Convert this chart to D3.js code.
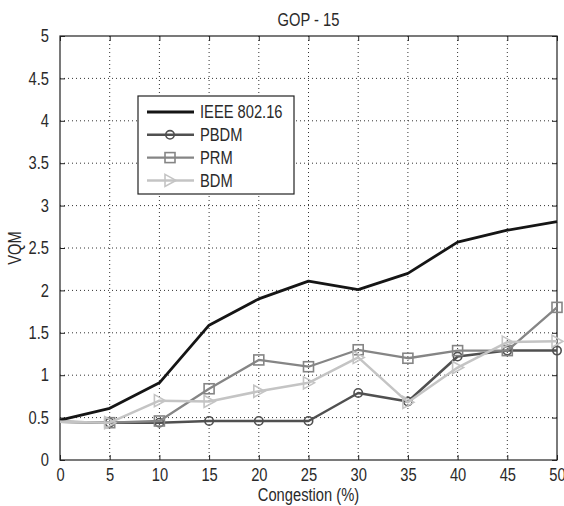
<!DOCTYPE html>
<html lang="en">
<head>
<meta charset="utf-8">
<title>GOP - 15</title>
<script src="https://d3js.org/d3.v7.min.js"></script>
<style>
  html, body { margin: 0; padding: 0; background: #fff; }
  text { font-family: "Liberation Sans", Arial, sans-serif; font-size: 17.5px; fill: #2a2a2a; }
</style>
</head>
<body>
<div id="chart"></div>
<script>
// values
var congestion = [0, 5, 10, 15, 20, 25, 30, 35, 40, 45, 50];
var ieee = [0.47, 0.61, 0.91, 1.59, 1.90, 2.11, 2.01, 2.20, 2.57, 2.71, 2.81];
var pbdm = [0.45, 0.44, 0.44, 0.46, 0.46, 0.46, 0.79, 0.69, 1.22, 1.29, 1.29];
var prm  = [0.45, 0.44, 0.46, 0.84, 1.18, 1.10, 1.30, 1.20, 1.29, 1.29, 1.80];
var bdm  = [0.45, 0.44, 0.70, 0.69, 0.81, 0.91, 1.21, 0.68, 1.09, 1.39, 1.40];
var seriesNames = ["IEEE 802.16", "PBDM", "PRM", "BDM"];
var xTicks = [0, 5, 10, 15, 20, 25, 30, 35, 40, 45, 50];
var yTicks = [0, 0.5, 1, 1.5, 2, 2.5, 3, 3.5, 4, 4.5, 5];

var W = 564, H = 506;
var margin = {top: 36, right: 7, bottom: 46, left: 60};
var width = W - margin.left - margin.right,
    height = H - margin.top - margin.bottom;

var svg = d3.select("#chart").append("svg")
    .attr("width", W).attr("height", H);

var g = svg.append("g")
    .attr("transform", "translate(" + margin.left + "," + margin.top + ")");

var x = d3.scaleLinear().domain([0, 50]).range([0, width]);
var y = d3.scaleLinear().domain([0, 5]).range([height, 0]);

// dotted grid
g.append("g").selectAll("line")
  .data(xTicks.slice(1, -1))
  .enter().append("line")
    .attr("x1", function(d) { return x(d); })
    .attr("x2", function(d) { return x(d); })
    .attr("y1", 0).attr("y2", height)
    .attr("stroke", "#333").attr("stroke-width", 1)
    .attr("stroke-dasharray", "1,3");

g.append("g").selectAll("line")
  .data(yTicks.slice(1, -1))
  .enter().append("line")
    .attr("y1", function(d) { return y(d); })
    .attr("y2", function(d) { return y(d); })
    .attr("x1", 0).attr("x2", width)
    .attr("stroke", "#333").attr("stroke-width", 1)
    .attr("stroke-dasharray", "1,3");

// axes, ticks inward on all four sides
function styleAxis(sel) {
  sel.select(".domain").remove();
  sel.selectAll(".tick line").attr("stroke", "#222");
  sel.attr("font-family", null).attr("font-size", null);
}

g.append("g")
  .attr("transform", "translate(0," + height + ")")
  .call(d3.axisBottom(x).tickValues(xTicks).tickSize(-5).tickPadding(9).tickFormat(d3.format("d")))
  .call(styleAxis);

g.append("g")
  .call(d3.axisTop(x).tickValues(xTicks).tickSize(-5).tickFormat(""))
  .call(styleAxis);

g.append("g")
  .call(d3.axisLeft(y).tickValues(yTicks).tickSize(-5).tickPadding(11).tickFormat(d3.format("")))
  .call(styleAxis);

g.append("g")
  .attr("transform", "translate(" + width + ",0)")
  .call(d3.axisRight(y).tickValues(yTicks).tickSize(-5).tickFormat(""))
  .call(styleAxis);

g.append("rect")
  .attr("width", width).attr("height", height)
  .attr("fill", "none").attr("stroke", "#222").attr("stroke-width", 1.2);

// series
var series = [
  {name: seriesNames[0], values: ieee, color: "#151515", w: 2.8, marker: null},
  {name: seriesNames[1], values: pbdm, color: "#505050", w: 2.5, marker: "circle"},
  {name: seriesNames[2], values: prm,  color: "#858585", w: 2.3, marker: "square"},
  {name: seriesNames[3], values: bdm,  color: "#c4c4c4", w: 2.5, marker: "triangle"}
];

var line = d3.line()
  .x(function(d, i) { return x(congestion[i]); })
  .y(function(d) { return y(d); });

function drawMarker(sel, type, color) {
  if (type === "circle") {
    sel.append("circle").attr("r", 4.2)
      .attr("fill", "none").attr("stroke", color).attr("stroke-width", 1.6);
  } else if (type === "square") {
    sel.append("rect").attr("x", -5).attr("y", -5).attr("width", 10).attr("height", 10)
      .attr("fill", "none").attr("stroke", color).attr("stroke-width", 1.6);
  } else if (type === "triangle") {
    sel.append("path").attr("d", "M-5,-6L6,0L-5,6Z")
      .attr("fill", "none").attr("stroke", color).attr("stroke-width", 1.6);
  }
}

series.forEach(function(s) {
  g.append("path")
    .datum(s.values)
    .attr("d", line)
    .attr("fill", "none")
    .attr("stroke", s.color)
    .attr("stroke-width", s.w)
    .attr("stroke-linejoin", "round");

  if (s.marker) {
    s.values.forEach(function(v, i) {
      if (congestion[i] === 0) return;
      var m = g.append("g")
        .attr("transform", "translate(" + x(congestion[i]) + "," + y(v) + ")");
      drawMarker(m, s.marker, s.color);
    });
  }
});

// legend
var legend = svg.append("g").attr("transform", "translate(138,96)");
legend.append("rect")
  .attr("width", 156).attr("height", 98)
  .attr("fill", "#fff").attr("stroke", "#222").attr("stroke-width", 1.2);

series.forEach(function(s, i) {
  var row = legend.append("g").attr("transform", "translate(0," + (16 + i * 22.8) + ")");
  row.append("line")
    .attr("x1", 9).attr("x2", 56)
    .attr("stroke", s.color).attr("stroke-width", s.w);
  if (s.marker) {
    var m = row.append("g").attr("transform", "translate(32,0)");
    drawMarker(m, s.marker, s.color);
  }
  row.append("text")
    .attr("x", 62).attr("dy", "0.36em")
    .text(s.name);
});

// titles
svg.append("text")
  .attr("x", margin.left + width / 2).attr("y", 26)
  .attr("text-anchor", "middle")
  .text("GOP - 15");

svg.append("text")
  .attr("x", margin.left + width / 2).attr("y", 501)
  .attr("text-anchor", "middle")
  .text("Congestion (%)");

svg.append("text")
  .attr("transform", "translate(21," + (margin.top + height / 2) + ") rotate(-90)")
  .attr("text-anchor", "middle")
  .text("VQM");

// the original uses a narrow face: squeeze every label horizontally
svg.selectAll("text").each(function() {
  var len = this.getComputedTextLength();
  if (len > 0) {
    d3.select(this)
      .attr("textLength", len * 0.84)
      .attr("lengthAdjust", "spacingAndGlyphs");
  }
});
</script>
</body>
</html>
